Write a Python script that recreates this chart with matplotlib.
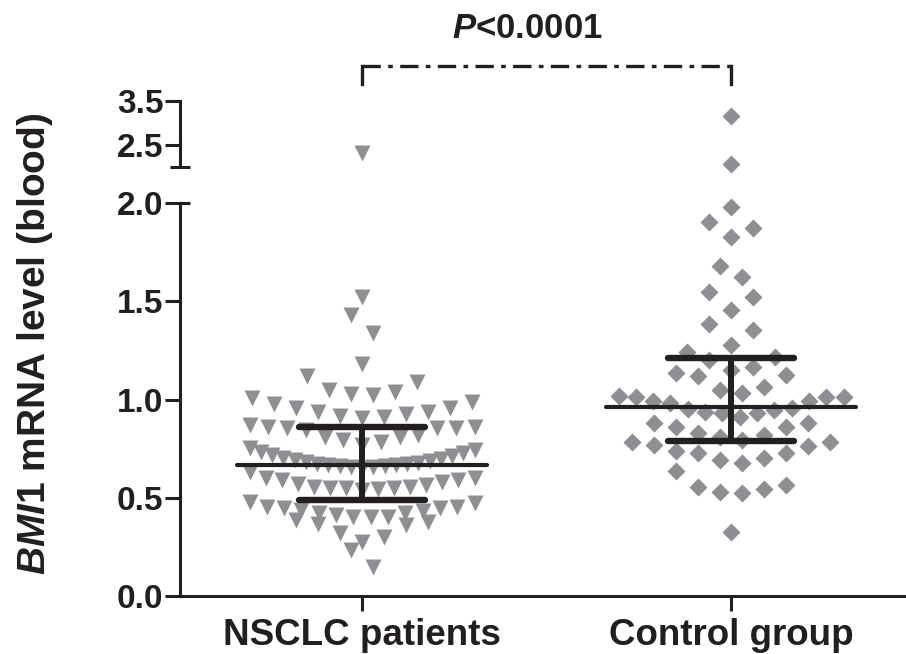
import numpy as np
import matplotlib
matplotlib.use('Agg')
import matplotlib.pyplot as plt
import matplotlib.transforms as mtransforms

plt.rcParams['font.family'] = ['Liberation Sans', 'DejaVu Sans']
plt.rcParams['font.weight'] = 'bold'
plt.rcParams['mathtext.fontset'] = 'custom'
plt.rcParams['mathtext.it'] = 'Liberation Sans:italic:bold'
plt.rcParams['mathtext.rm'] = 'Liberation Sans:bold'
plt.rcParams['mathtext.bf'] = 'Liberation Sans:bold'

# ---------------- data ----------------
categories = ['NSCLC patients', 'Control group']

nsclc_values = [2.32,
                1.52, 1.43, 1.34, 1.18,
                1.022, 1.03, 1.04, 1.05, 1.09, 1.12,
                0.906, 0.911, 0.916, 0.926, 0.936, 0.936, 0.957, 0.957, 0.977, 0.987, 1.008,
                0.768, 0.784, 0.794, 0.809, 0.809, 0.819, 0.845, 0.855, 0.855, 0.855,
                0.86, 0.86, 0.87,
                0.652, 0.655, 0.657, 0.66, 0.662, 0.665, 0.667, 0.67, 0.672, 0.677, 0.68,
                0.685, 0.69, 0.695, 0.70, 0.71, 0.718, 0.728, 0.735, 0.745, 0.755,
                0.537, 0.545, 0.550, 0.550, 0.550, 0.555, 0.555, 0.565, 0.570, 0.580,
                0.590, 0.590, 0.600, 0.600, 0.631,
                0.402, 0.402, 0.402, 0.412, 0.422, 0.422, 0.433, 0.438, 0.448, 0.448,
                0.453, 0.453, 0.473, 0.478,
                0.275, 0.300, 0.321, 0.361, 0.366, 0.377, 0.385,
                0.148, 0.234]

control_values = [3.15, 2.07,
                  1.98,
                  1.827, 1.873, 1.903,
                  1.623, 1.679,
                  1.455, 1.522, 1.547,
                  1.277, 1.354, 1.384,
                  1.150, 1.165, 1.201, 1.216, 1.242,
                  1.033, 1.048, 1.064, 1.12, 1.125, 1.135,
                  0.911, 0.931, 0.931, 0.936, 0.947, 0.952, 0.957, 0.982, 0.992, 0.992,
                  1.013, 1.013, 1.013, 1.018,
                  0.794, 0.809, 0.819, 0.830, 0.860, 0.860, 0.880, 0.880,
                  0.677, 0.692, 0.702, 0.728, 0.728, 0.738, 0.763, 0.768, 0.784, 0.784,
                  0.524, 0.529, 0.545, 0.555, 0.565, 0.634,
                  0.326]

center_values = [0.667, 0.962]
lower_values = [0.489, 0.787]
upper_values = [0.860, 1.213]

lower_ticks = [0.0, 0.5, 1.0, 1.5, 2.0]
upper_ticks = [2.5, 3.5]
p_label = r'$\mathit{P}$<0.0001'
y_label = r'$\mathit{BMI1}$ mRNA level (blood)'

# ---------------- layout ----------------
W, H = 906, 654
fig = plt.figure(figsize=(W / 100, H / 100), dpi=100)

ax_left_px, ax_right_px = 180, 906
low_bot, low_top = 596, 203
up_bot, up_top = 167, 101

ax = fig.add_axes([ax_left_px / W, (H - low_bot) / H, (ax_right_px - ax_left_px) / W,
                   (low_bot - low_top) / H])
axu = fig.add_axes([ax_left_px / W, (H - up_bot) / H, (ax_right_px - ax_left_px) / W,
                    (up_bot - up_top) / H])

px_per_x = 369.0
x0 = -(362 - ax_left_px) / px_per_x
x1 = x0 + (ax_right_px - ax_left_px) / px_per_x
for a in (ax, axu):
    a.set_xlim(x0, x1)
ax.set_ylim(0, 2.0)
axu.set_ylim(2.0, 3.5)


def row_layout(vals, b=0.112, step=22.0, max_w=225.0):
    """Scatter-dot-plot layout: group sorted values into rows of height b,
    spread each row horizontally, lowest values in the middle."""
    v = np.sort(np.asarray(vals, dtype=float))
    xs, ys = [], []
    i = 0
    while i < len(v):
        j = i
        while j < len(v) and v[j] - v[i] <= b + 1e-9:
            j += 1
        row = v[i:j]
        n = len(row)
        s = step if n < 2 else min(step, max_w / (n - 1))
        offs = (np.arange(n) - (n - 1) / 2.0) * s
        order = sorted(range(n), key=lambda k: (round(abs(offs[k]), 6), -offs[k]))
        for val, k in zip(row, order):
            xs.append(offs[k])
            ys.append(val)
        i = j
    return np.array(xs), np.array(ys)


gray = '#8e8f93'
dark = '#231f20'
groups = [(nsclc_values, 'v', 11.5), (control_values, 'D', 9.2)]
for gi, (vals, mk, ms) in enumerate(groups):
    vals = np.asarray(vals)
    for a, part in ((ax, vals[vals <= 2.0]), (axu, vals[vals > 2.0])):
        xo, yv = row_layout(part)
        a.scatter(gi + xo / px_per_x, yv, marker=mk, s=ms ** 2, color=gray,
                  linewidths=0, zorder=2, clip_on=False)

# summary lines
for gi in range(2):
    ax.plot([gi - 0.338, gi + 0.338], [center_values[gi]] * 2, color=dark, lw=3.0,
            solid_capstyle='round', zorder=3)
    for v in (lower_values[gi], upper_values[gi]):
        ax.plot([gi - 0.172, gi + 0.172], [v, v], color=dark, lw=4.6,
                solid_capstyle='round', zorder=3)
    ax.plot([gi, gi], [lower_values[gi], upper_values[gi]], color=dark, lw=4.3,
            solid_capstyle='butt', zorder=3)

# axes styling
for a in (ax, axu):
    a.spines['top'].set_visible(False)
    a.spines['right'].set_visible(False)
    a.spines['left'].set_linewidth(2.2)
    a.spines['left'].set_color(dark)
    a.tick_params(axis='y', length=11, width=2.2, color=dark, pad=1,
                  labelsize=24, labelcolor=dark)
axu.spines['bottom'].set_visible(False)
axu.set_xticks([])
axu.set_yticks(upper_ticks)
axu.set_yticklabels([f'{t:.1f}' for t in upper_ticks], fontweight='bold')
ax.spines['bottom'].set_linewidth(2.2)
ax.spines['bottom'].set_color(dark)
ax.set_yticks(lower_ticks)
ax.set_yticklabels([f'{t:.1f}' for t in lower_ticks], fontweight='bold')
ax.set_xticks([0, 1])
ax.set_xticklabels(categories, fontsize=26.5, fontweight='bold', color=dark)
ax.tick_params(axis='x', length=11, width=2.2, color=dark, pad=5)

# axis break caps
cap = 10 / (ax_right_px - ax_left_px)
trl = mtransforms.blended_transform_factory(ax.transAxes, ax.transData)
ax.plot([0, cap], [2.0, 2.0], color=dark, lw=2.2, transform=trl, clip_on=False,
        solid_capstyle='butt')
axu.plot([-cap, cap], [0, 0], color=dark, lw=2.2, transform=axu.transAxes,
         clip_on=False, solid_capstyle='butt')

# significance bracket
trb = mtransforms.blended_transform_factory(axu.transData, fig.transFigure)
yb = (H - 66) / H
ye = (H - 84) / H
axu.plot([0, 1], [yb, yb], color=dark, lw=2.4, transform=trb, clip_on=False,
         dashes=(5.5, 2.2, 1.4, 2.2), dash_capstyle='butt')
axu.plot([0, 0], [yb, ye], color=dark, lw=2.4, transform=trb, clip_on=False)
axu.plot([1, 1], [yb, ye], color=dark, lw=2.4, transform=trb, clip_on=False)
axu.text((527 - 362) / px_per_x, (H - 28) / H, p_label, transform=trb,
         ha='center', va='center', fontsize=25, fontweight='bold', color=dark)

fig.text(35 / W, (H - 344) / H, y_label, rotation=90, ha='center', va='center',
         fontsize=28, fontweight='bold', color=dark)

fig.savefig('out.png', dpi=100)
